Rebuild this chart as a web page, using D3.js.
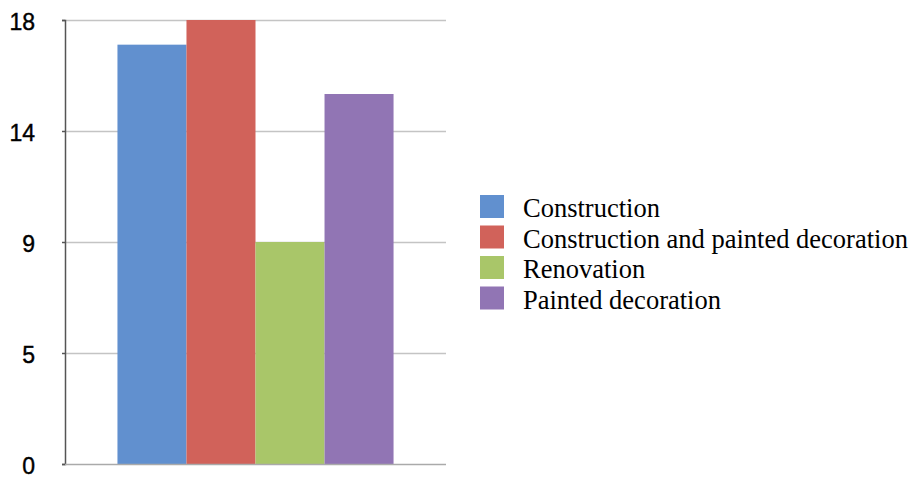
<!DOCTYPE html>
<html>
<head>
<meta charset="utf-8">
<script src="https://cdn.jsdelivr.net/npm/d3@7/dist/d3.min.js"></script>
<style>
html,body{margin:0;padding:0;background:#fff;}
svg{display:block;}
</style>
</head>
<body>
<svg id="chart" width="917" height="479"></svg>
<script>
const categories = ["Construction", "Construction and painted decoration", "Renovation", "Painted decoration"];
const values = [17, 18, 9, 15];
const colors = ["#6190cf", "#d1625a", "#a9c669", "#9175b4"];
const tickValues = [0, 4.5, 9, 13.5, 18];
const tickLabels = ["0", "5", "9", "14", "18"];

(function(){
const svg = d3.select("#chart");
const mLeft = 65, mRight = 446, mTop = 20, mBottom = 464;

const y = d3.scaleLinear().domain([0, 18]).range([mBottom, mTop]);
const x = d3.scaleBand().domain(categories).range([mLeft, mRight]).paddingInner(0).paddingOuter(0.76);

// gridlines
svg.append("g").selectAll("line").data(tickValues.filter(d => d > 0)).join("line")
  .attr("x1", mLeft).attr("x2", mRight)
  .attr("y1", d => y(d) + 0.5).attr("y2", d => y(d) + 0.5)
  .attr("stroke", "#c4c4c4").attr("stroke-width", 1.5);

// bars
svg.append("g").selectAll("rect").data(categories).join("rect")
  .attr("x", d => x(d))
  .attr("width", x.bandwidth())
  .attr("y", (d, i) => y(values[i]))
  .attr("height", (d, i) => y(0) - y(values[i]))
  .attr("fill", (d, i) => colors[i]);

// y axis
const yAxis = d3.axisLeft(y).tickValues(tickValues).tickSize(3).tickPadding(27)
  .tickFormat((d, i) => tickLabels[i]);
const ga = svg.append("g").attr("transform", `translate(${mLeft},0)`).call(yAxis);
ga.select(".domain").attr("stroke", "#555").attr("stroke-width", 1.5);
ga.selectAll(".tick line").attr("stroke", "#555").attr("stroke-width", 1.5);
ga.selectAll(".tick text").attr("font-family", "Liberation Sans, Arial, sans-serif")
  .attr("font-size", 23).attr("fill", "#000").attr("dy", "0.42em")
  .attr("stroke", "#000").attr("stroke-width", 0.4);

// x baseline
svg.append("line").attr("x1", mLeft).attr("x2", mRight)
  .attr("y1", mBottom + 0.5).attr("y2", mBottom + 0.5)
  .attr("stroke", "#aaa").attr("stroke-width", 1.5);

// legend
const lg = svg.append("g").attr("transform", "translate(480,195)");
const rows = lg.selectAll("g").data(categories).join("g")
  .attr("transform", (d, i) => `translate(0,${i * 30.5})`);
rows.append("rect").attr("width", 24).attr("height", 23).attr("fill", (d, i) => colors[i]);
rows.append("text").attr("x", 43).attr("y", 22)
  .attr("font-family", "Liberation Serif, Times New Roman, serif")
  .attr("font-size", 26.5).attr("fill", "#000").text(d => d);
})();
</script>
</body>
</html>
